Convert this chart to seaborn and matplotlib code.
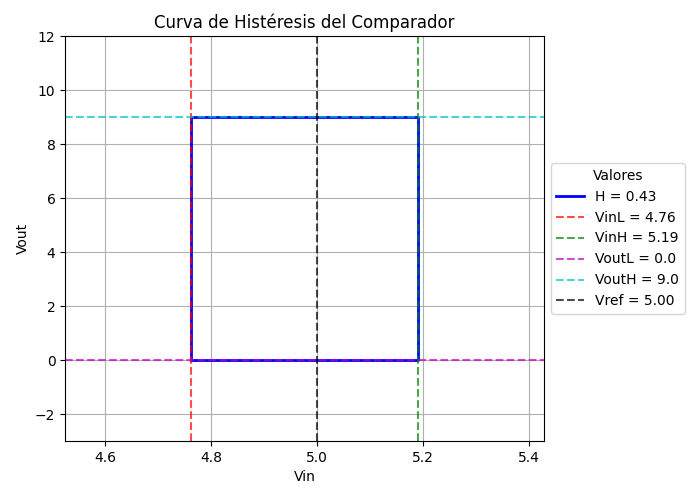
import matplotlib
matplotlib.use("Agg")
import matplotlib.pyplot as plt
import seaborn as sns
import pandas as pd

VinL = 4.762
VinH = 5.19
VoutL = 0.0
VoutH = 9.0
Vref = 5.00
H = 0.43

loop_vin = [VinL, VinL, VinH, VinH, VinL]
loop_vout = [VoutL, VoutH, VoutH, VoutL, VoutL]
df = pd.DataFrame({"Vin": loop_vin, "Vout": loop_vout})

fig, ax = plt.subplots(figsize=(7, 5), dpi=100)
fig.subplots_adjust(left=0.093, right=0.777, top=0.928, bottom=0.118)

sns.lineplot(data=df, x="Vin", y="Vout", sort=False, estimator=None,
             color="blue", linewidth=2, label=f"H = {H:.2f}", ax=ax)
ax.axvline(VinL, color="red", linestyle="--", alpha=0.7, label=f"VinL = {VinL:.2f}")
ax.axvline(VinH, color="green", linestyle="--", alpha=0.7, label=f"VinH = {VinH:.2f}")
ax.axhline(VoutL, color="m", linestyle="--", alpha=0.7, label=f"VoutL = {VoutL}")
ax.axhline(VoutH, color="c", linestyle="--", alpha=0.7, label=f"VoutH = {VoutH}")
ax.axvline(Vref, color="black", linestyle="--", alpha=0.7, label=f"Vref = {Vref:.2f}")

ax.set_xlim(4.5245, 5.428)
ax.set_ylim(-3, 12)
ax.set_title("Curva de Histéresis del Comparador")
ax.set_xlabel("Vin")
ax.set_ylabel("Vout")
ax.grid(True)
ax.legend(title="Valores", loc="center left", bbox_to_anchor=(1, 0.5))

fig.savefig("out.png", dpi=100)
